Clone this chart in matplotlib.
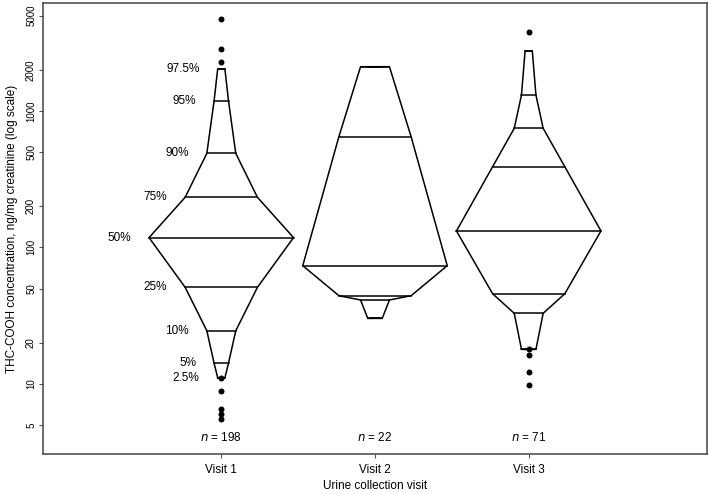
import matplotlib
matplotlib.use("Agg")
import matplotlib.pyplot as plt
import matplotlib.transforms as mtransforms

plt.rcParams["font.family"] = ["Liberation Sans", "DejaVu Sans"]

# Daten
VISITS = ["Visit 1", "Visit 2", "Visit 3"]
N_VALUES = [198, 22, 71]
PERCENTILES = [2.5, 5, 10, 25, 50, 75, 90, 95, 97.5]
PCT_LABELS = ["2.5%", "5%", "10%", "25%", "50%", "75%", "90%", "95%", "97.5%"]
Q_VISIT1 = [11.1, 14.2, 24.5, 51, 118, 233, 489, 1182, 2028]
Q_VISIT2 = [30.2, 30.2, 41.2, 44.3, 73.5, 647, 2109, 2109, 2109]
Q_VISIT3 = [17.9, 17.9, 32.9, 45.8, 132, 390, 746, 1308, 2748]
OUT_VISIT1 = [4712, 2842, 2282, 11.0, 8.9, 6.55, 6.0, 5.5]
OUT_VISIT2 = []
OUT_VISIT3 = [3766, 17.9, 16.3, 12.2, 9.8]
Y_TICKS = [5, 10, 20, 50, 100, 200, 500, 1000, 2000, 5000]

QUANTILES = [Q_VISIT1, Q_VISIT2, Q_VISIT3]
OUTLIERS = [OUT_VISIT1, OUT_VISIT2, OUT_VISIT3]

MAX_HALF = 0.47  # halbe Breite beim Median
LW = 1.1

fig = plt.figure(figsize=(7.09, 4.94), dpi=100)
ax = fig.add_axes([43 / 709, 1 - 454 / 494, 664 / 709, 451 / 494])
ax.set_yscale("log")

for i, (q, outs) in enumerate(zip(QUANTILES, OUTLIERS)):
    x = i + 1
    halves = [MAX_HALF * min(p, 100 - p) / 50 for p in PERCENTILES]
    # Umriss
    xs = [x - h for h in halves] + [x + h for h in reversed(halves)]
    ys = list(q) + list(reversed(q))
    xs.append(xs[0])
    ys.append(ys[0])
    ax.plot(xs, ys, color="black", linewidth=LW, solid_joinstyle="miter")
    # waagerechte Linien
    for h, v in zip(halves, q):
        ax.plot([x - h, x + h], [v, v], color="black", linewidth=LW)
    if outs:
        ax.plot([x] * len(outs), outs, "o", color="black", markersize=4.3,
                markeredgewidth=0)

# Perzentil-Beschriftung links von Visit 1
for p, lab, v in zip(PERCENTILES, PCT_LABELS, Q_VISIT1):
    h = MAX_HALF * min(p, 100 - p) / 50
    ax.annotate(lab, xy=(1 - h, v), xytext=(-13, 0), textcoords="offset points",
                ha="right", va="center", fontsize=8.5)

# n-Werte
trans = mtransforms.blended_transform_factory(ax.transData, ax.transAxes)
for i, n in enumerate(N_VALUES):
    ax.text(i + 1, 0.036, f"$\\it{{n}}$ = {n}", transform=trans,
            ha="center", va="center", fontsize=8.5)

ax.set_xlim(-0.16, 4.16)
ax.set_ylim(3.066, 6175)
ax.set_xticks([1, 2, 3])
ax.set_xticklabels(VISITS, fontsize=8.5)
ax.set_yticks(Y_TICKS)
ax.set_yticklabels([str(t) for t in Y_TICKS], rotation=90, va="center", fontsize=7)
ax.yaxis.set_minor_locator(matplotlib.ticker.NullLocator())
ax.tick_params(axis="both", length=3, width=0.8, color="#555555", pad=2)
ax.tick_params(axis="x", pad=4)

ax.set_xlabel("Urine collection visit", fontsize=8.5)
ax.xaxis.set_label_coords(0.5, -0.058)
ax.set_ylabel("THC-COOH concentration, ng/mg creatinine (log scale)", fontsize=8.5)
ax.yaxis.set_label_coords(-0.038, 0.5)

for s in ax.spines.values():
    s.set_color("#444444")
    s.set_linewidth(1.1)

fig.savefig("out.png", dpi=100)
